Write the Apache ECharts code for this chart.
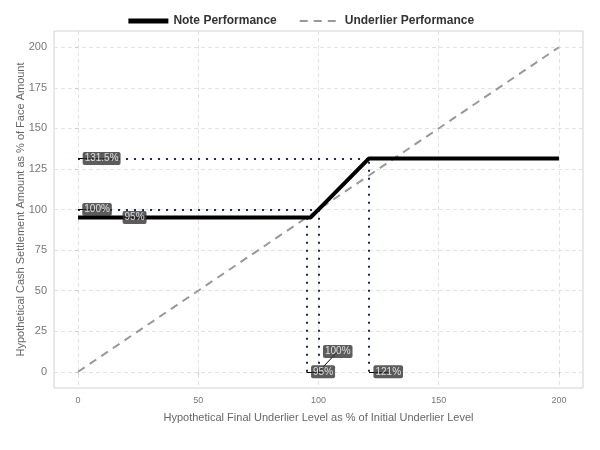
<!DOCTYPE html>
<html>
<head>
<meta charset="utf-8">
<script src="https://cdn.jsdelivr.net/npm/echarts@6/dist/echarts.min.js"></script>
<style>
html, body { margin: 0; padding: 0; background: #fff; }
#main { width: 600px; height: 450px; }
</style>
</head>
<body>
<div id="main"></div>
<script>
// underlier and note payoff
var underlier_x = [0, 200];
var underlier_y = [0, 200];
var note_x = [0, 96.67, 121, 200];
var note_y = [95, 95, 131.5, 131.5];

// reference levels (x, y) for the dotted guide lines
var ref_x = [95, 100, 121];
var ref_y = [95, 100, 131.5];

// labels on the y side: text, anchor, label centre
var ylab_text = ['131.5%', '100%', '95%'];
var ylab_anchor = [[0, 131.5], [0, 100], [0, 95]];
var ylab_pos = [[9.8, 131.5], [7.9, 100], [23.5, 95]];

// labels on the x side
var xlab_text = ['95%', '100%', '121%'];
var xlab_anchor = [[95, 0], [100, 0], [121, 0]];
var xlab_pos = [[101.9, 0], [108, 12.5], [129, 0]];

// ticks
var x_ticks = [0, 50, 100, 150, 200];
var y_ticks = [0, 25, 50, 75, 100, 125, 150, 175, 200];

var chart = echarts.init(document.getElementById('main'));

function pairs(xs, ys) {
    return xs.map(function (x, i) { return [x, ys[i]]; });
}

var guide_segments = [];
ref_x.forEach(function (x, i) {
    guide_segments.push({ coords: [[0, ref_y[i]], [x, ref_y[i]]] });
    guide_segments.push({ coords: [[x, 0], [x, ref_y[i]]] });
});

var leader_segments = [];
ylab_anchor.forEach(function (a, i) { leader_segments.push({ coords: [a, ylab_pos[i]] }); });
xlab_anchor.forEach(function (a, i) { leader_segments.push({ coords: [a, xlab_pos[i]] }); });

var label_points = [];
ylab_pos.forEach(function (p, i) { label_points.push({ value: p, name: ylab_text[i] }); });
xlab_pos.forEach(function (p, i) { label_points.push({ value: p, name: xlab_text[i] }); });

var axis_text = { color: '#777', fontFamily: 'Liberation Sans, Arial, sans-serif' };

var option = {
    animation: false,
    textStyle: { fontFamily: 'Liberation Sans, Arial, sans-serif' },
    legend: {
        data: [
            { name: 'Note Performance', lineStyle: { width: 5 } },
            { name: 'Underlier Performance', lineStyle: { width: 2 } }
        ],
        top: 10,
        left: 'center',
        itemWidth: 40,
        itemHeight: 10,
        itemGap: 22,
        itemStyle: { opacity: 0 },
        textStyle: { fontWeight: 'bold', fontSize: 12, color: '#333' }
    },
    grid: {
        left: 54, right: 17, top: 31, bottom: 62,
        show: true, borderColor: '#cfd2d6', borderWidth: 1
    },
    xAxis: {
        type: 'value',
        min: -10, max: 210,
        name: 'Hypothetical Final Underlier Level as % of Initial Underlier Level',
        nameLocation: 'middle',
        nameGap: 24,
        nameMoveOverlap: false,
        nameTextStyle: { color: '#666', fontSize: 11 },
        axisLine: { show: false },
        axisTick: { show: true, length: 3, lineStyle: { color: '#ccc' }, customValues: x_ticks },
        axisLabel: Object.assign({ fontSize: 9, margin: 8, customValues: x_ticks }, axis_text),
        splitLine: { show: true, lineStyle: { color: '#e3e3e3', type: [4, 3] } }
    },
    yAxis: {
        type: 'value',
        min: -10, max: 210,
        name: 'Hypothetical Cash Settlement Amount as % of Face Amount',
        nameLocation: 'middle',
        nameGap: 28,
        nameMoveOverlap: false,
        nameTextStyle: { color: '#666', fontSize: 11 },
        axisLine: { show: false },
        axisTick: { show: true, length: 3, lineStyle: { color: '#ccc' }, customValues: y_ticks },
        axisLabel: Object.assign({ fontSize: 11, margin: 7, customValues: y_ticks }, axis_text),
        splitLine: { show: true, lineStyle: { color: '#e3e3e3', type: [4, 3] } }
    },
    series: [
        {
            name: 'guides',
            type: 'lines',
            coordinateSystem: 'cartesian2d',
            z: 2,
            lineStyle: { color: '#1d2b4a', width: 2, type: [2, 6], opacity: 1 },
            data: guide_segments
        },
        {
            name: 'Underlier Performance',
            type: 'line',
            symbol: 'none',
            z: 3,
            lineStyle: { color: '#999', width: 2, type: [8, 6] },
            itemStyle: { color: '#999' },
            data: pairs(underlier_x, underlier_y)
        },
        {
            name: 'Note Performance',
            type: 'line',
            symbol: 'none',
            z: 4,
            lineStyle: { color: '#000', width: 4 },
            itemStyle: { color: '#000' },
            data: pairs(note_x, note_y)
        },
        {
            name: 'leaders',
            type: 'lines',
            coordinateSystem: 'cartesian2d',
            z: 5,
            lineStyle: { color: '#000', width: 1, opacity: 1 },
            data: leader_segments
        },
        {
            name: 'labels',
            type: 'scatter',
            symbolSize: 0,
            z: 6,
            label: {
                show: true,
                position: 'inside',
                formatter: '{b}',
                color: '#fff',
                fontSize: 10,
                backgroundColor: '#333',
                borderRadius: 2,
                padding: [2, 2, 1, 2]
            },
            data: label_points
        }
    ]
};

chart.setOption(option);
</script>
</body>
</html>
